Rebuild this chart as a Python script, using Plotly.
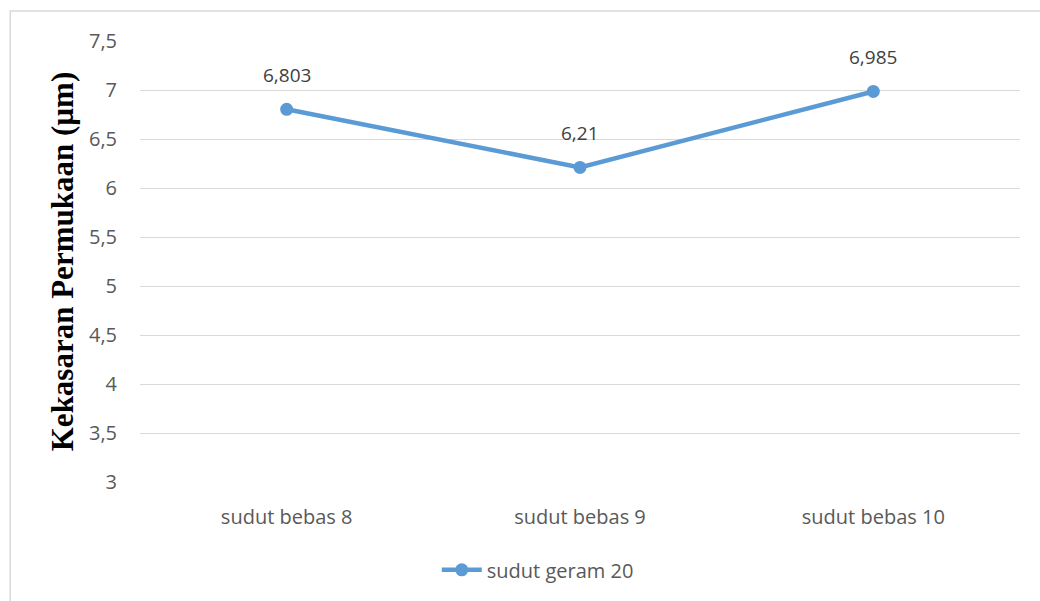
import plotly.graph_objects as go

categories = ["sudut bebas 8", "sudut bebas 9", "sudut bebas 10"]
values = [6.803, 6.21, 6.985]
series_name = "sudut geram 20"

labels = [("%g" % v).replace(".", ",") for v in values]

BODY_FONT = "Open Sans, Liberation Sans, sans-serif"

fig = go.Figure()
fig.add_trace(go.Scatter(
    x=categories, y=values, name=series_name,
    mode="lines+markers",
    line=dict(color="#5B9BD5", width=4.5),
    marker=dict(color="#5B9BD5", size=13),
    cliponaxis=False,
))

# value labels above each point
for c, v, t in zip(categories, values, labels):
    fig.add_annotation(x=c, y=v, text=t, showarrow=False, yshift=34,
                       font=dict(family=BODY_FONT, size=19, color="#404040"))

fig.update_layout(
    width=1040, height=601,
    margin=dict(l=140, r=20, t=41, b=115),
    paper_bgcolor="white", plot_bgcolor="white",
    separators=",.",
    showlegend=True,
    legend=dict(orientation="h", x=0.452, xanchor="center", y=-0.155, yanchor="top",
                font=dict(family=BODY_FONT, size=20, color="#595959"),
                itemwidth=40),
    xaxis=dict(
        type="category", range=[-0.5, 2.5],
        showgrid=False, zeroline=False, showline=False,
        ticks="", ticklabelstandoff=21,
        tickfont=dict(family=BODY_FONT, size=20, color="#595959"),
    ),
    yaxis=dict(
        range=[3, 7.5], dtick=0.5, tick0=3,
        showgrid=True, gridcolor="#D9D9D9", gridwidth=1.3,
        zeroline=False, showline=False, ticks="",
        ticklabelstandoff=22,
        tickfont=dict(family=BODY_FONT, size=20, color="#595959"),
        title=dict(text="<b>Kekasaran Permukaan (µm)</b>", standoff=6,
                   font=dict(family="Liberation Serif, Times New Roman, serif", size=31, color="black")),
    ),
    shapes=[dict(type="rect", xref="paper", yref="paper",
                 x0=-0.1475, x1=1.03, y0=-0.3, y1=1.068,
                 line=dict(color="#D9D9D9", width=1.5), fillcolor="rgba(0,0,0,0)", layer="below")],
)

fig.write_html("out.html")
